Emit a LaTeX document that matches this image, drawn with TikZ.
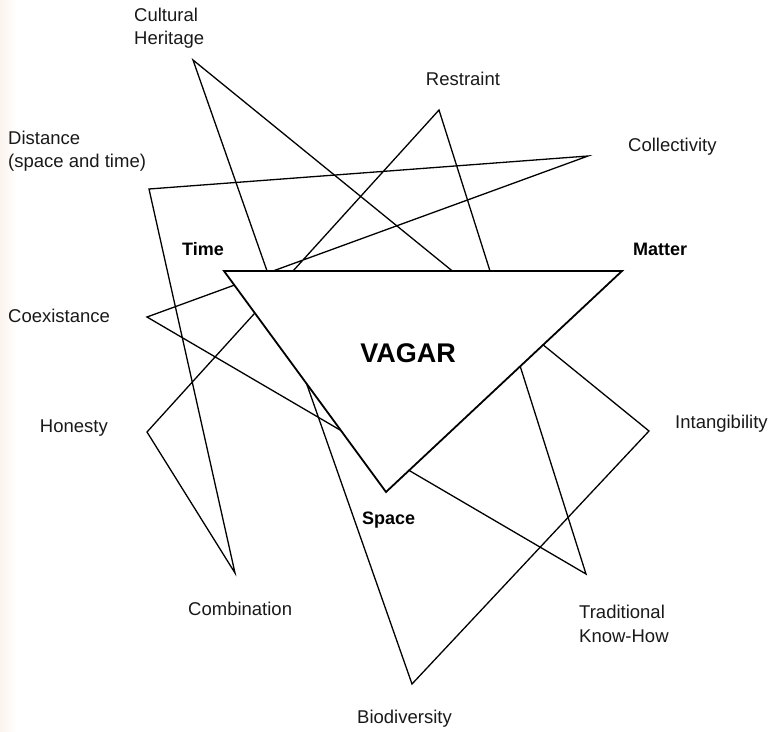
\documentclass[tikz,border=0pt]{standalone}
\usepackage{fontspec}
\setmainfont{Liberation Sans}
\begin{document}
\begin{tikzpicture}[x=1pt,y=-1pt,
  edge/.style={draw=black,line width=1.3pt,line join=miter},
  tri/.style={draw=black,fill=white,line width=1.8pt,line join=miter},
  lbl/.style={font=\fontsize{18.5}{23.5}\selectfont,inner sep=0pt,align=left,text=black!90},
  bold/.style={font=\fontsize{18}{22}\selectfont\bfseries,inner sep=0pt,text=black}]
\useasboundingbox (0,0) rectangle (771,731);
\shade[left color={rgb,255:red,251;green,243;blue,237},right color=white] (0,0) rectangle (16,731);
% outer vertices
\coordinate (CH) at (193,60);
\coordinate (R)  at (439,110);
\coordinate (Co) at (588,156);
\coordinate (D)  at (149,189);
\coordinate (Cx) at (147,317);
\coordinate (H)  at (147,432);
\coordinate (Cb) at (235,573);
\coordinate (B)  at (412,684);
\coordinate (T)  at (586,574);
\coordinate (I)  at (649,431);
% main triangle corners
\coordinate (TL) at (224,271);
\coordinate (TR) at (622,271);
\coordinate (TB) at (386,492);
% star polygons
\draw[edge] (Cx) -- (Co) -- (D) -- (Cb) -- (H) -- (R) -- (T) -- cycle;
\draw[edge] (CH) -- (B) -- (I) -- cycle;
% central triangle on top
\filldraw[tri] (TL) -- (TR) -- (TB) -- cycle;
\node[font=\fontsize{27}{30}\selectfont\bfseries,inner sep=0pt] (vagar) at (408,353) {VAGAR};
% labels
\node[lbl,anchor=west] (lCH) at (134,28) {Cultural\\Heritage};
\node[lbl] (lR) at (463,79) {Restraint};
\node[lbl,anchor=west] (lCo) at (628,147) {Collectivity};
\node[lbl,anchor=west] (lD) at (8,151) {Distance\\(space and time)};
\node[lbl,anchor=west] (lCx) at (8,316) {Coexistance};
\node[lbl,anchor=east] (lH) at (108,428) {Honesty};
\node[lbl,anchor=west] (lCb) at (188,609) {Combination};
\node[lbl,anchor=west] (lB) at (357,719) {Biodiversity};
\node[lbl,anchor=west] (lT) at (579,624) {Traditional\\Know-How};
\node[lbl,anchor=west] (lI) at (675,424) {Intangibility};
\node[bold,anchor=west] (time) at (182,249) {Time};
\node[bold,anchor=west] (matter) at (633,249) {Matter};
\node[bold,anchor=west] (space) at (362,520) {Space};
\end{tikzpicture}
\end{document}
